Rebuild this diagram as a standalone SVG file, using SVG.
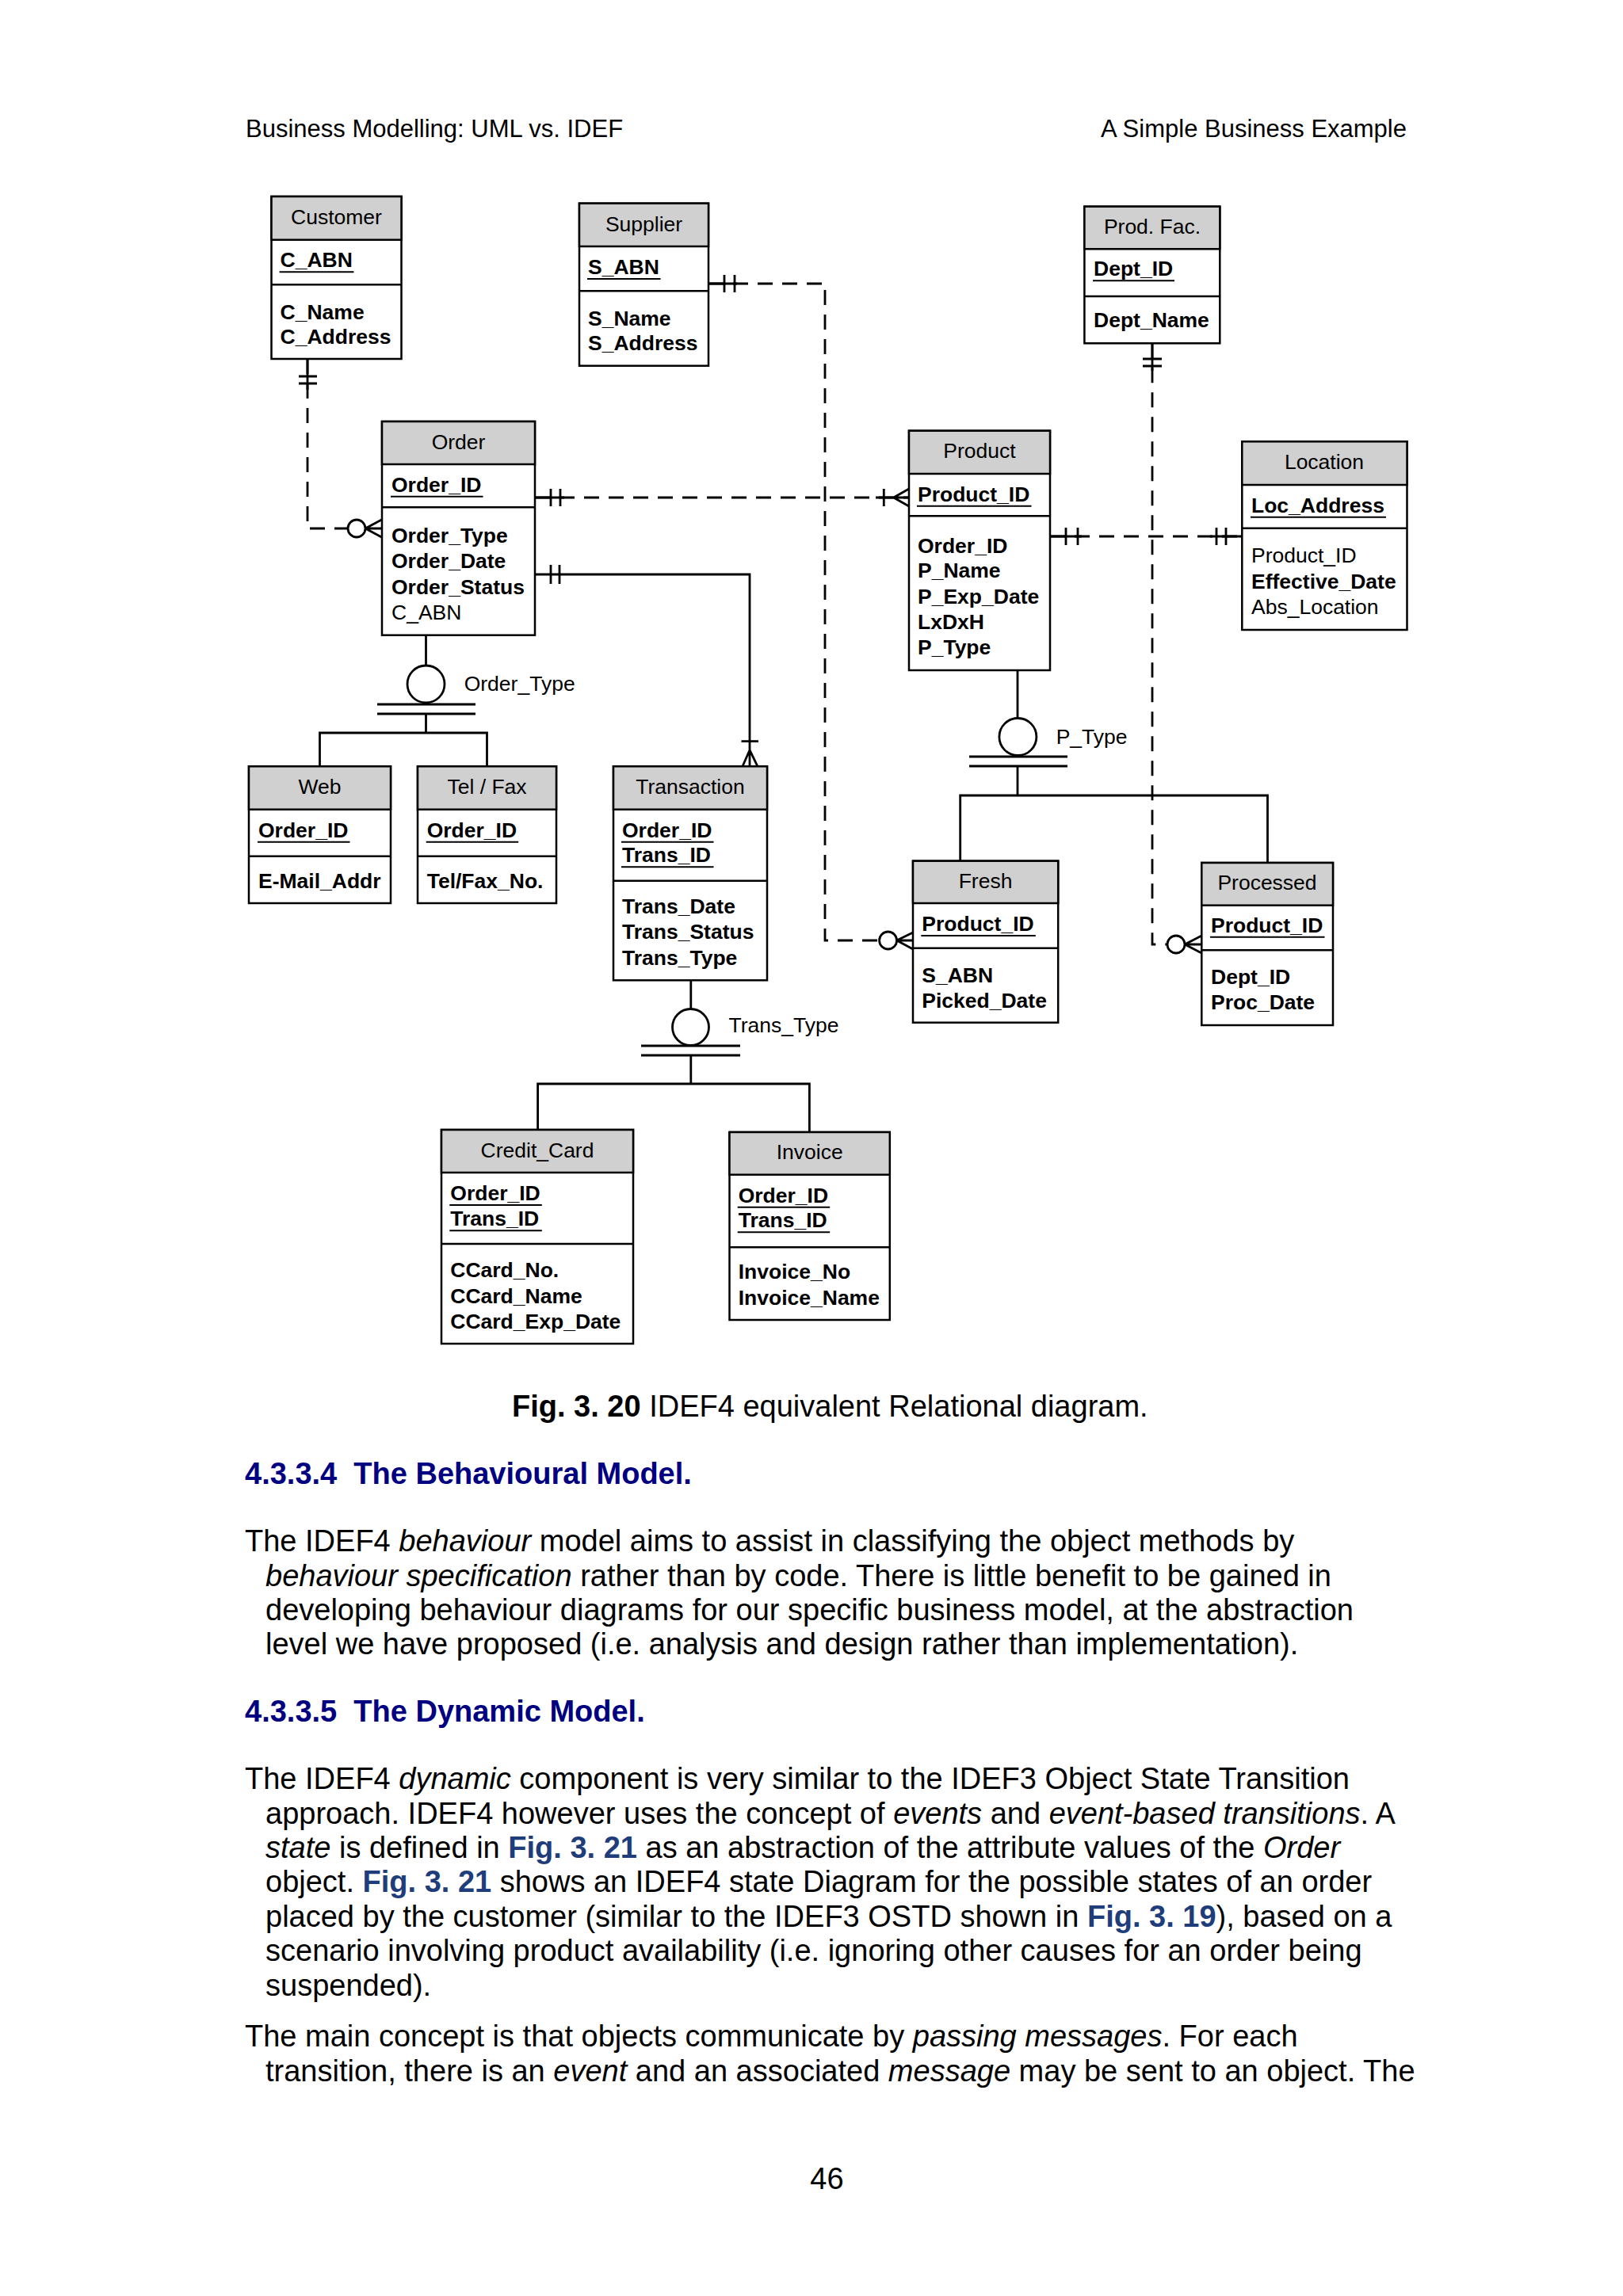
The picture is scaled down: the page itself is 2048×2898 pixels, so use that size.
<svg xmlns="http://www.w3.org/2000/svg" width="2048" height="2898" viewBox="0 0 2048 2898">
<style>
.box{fill:#fff;stroke:#000;stroke-width:2.5}
.hdr{fill:#d0d0d0;stroke:#000;stroke-width:2.5}
.sep{stroke:#000;stroke-width:2.5}
.ul{stroke:#000;stroke-width:2}
.t{font-family:"Liberation Sans",Arial,sans-serif;font-size:26.5px;fill:#000}
.b{font-weight:bold}
.c{text-anchor:middle}
.ln{fill:none;stroke:#000;stroke-width:2.8}
.dash{stroke-dasharray:19 12}
.circ{fill:#fff;stroke:#000;stroke-width:2.8}
.p{font-family:"Liberation Sans",Arial,sans-serif;font-size:38px;fill:#000}
.hd{font-family:"Liberation Sans",Arial,sans-serif;font-size:31px;fill:#000}
.h{font-family:"Liberation Sans",Arial,sans-serif;font-size:38px;font-weight:bold;fill:#000080}
.i{font-style:italic}
.lk{font-weight:bold;fill:#1f3d7a}
</style>
<rect x="0" y="0" width="2048" height="2898" fill="#fff"/>

<g id="page-header">
<text class="hd" x="310" y="172.7">Business Modelling: UML vs. IDEF</text>
<text class="hd" x="1775" y="172.7" text-anchor="end">A Simple Business Example</text>
</g>

<g id="connectors">
<!-- Customer -> Order -->
<path class="ln dash" d="M388,453 V667 H439"/>
<path class="ln" d="M388,453 V492 M377,475 H400 M377,484 H400"/>
<circle class="circ" cx="450" cy="667" r="11"/>
<path class="ln" d="M461,667 L482,655.7 M461,667 H482 M461,667 L482,678.3"/>
<!-- Order -> Product -->
<path class="ln dash" d="M675,628 H1147"/>
<path class="ln" d="M675,628 H712 M695,617 V639 M707,617 V639 M1105,628 H1147 M1115.3,617 V639 M1127.6,628 L1147,617 M1127.6,628 L1147,639"/>
<!-- Order -> Transaction -->
<path class="ln" d="M675,725 H946 V967.3 M695,713 V737 M706,713 V737 M935.5,935.7 H957 M946,946.7 L937,967.3 M946,946.7 L956,967.3"/>
<!-- Supplier -> Fresh -->
<path class="ln dash" d="M894,358 H1041 V1187 H1109.6"/>
<path class="ln" d="M894,358 H930 M914,347 V369 M927,347 V369"/>
<circle class="circ" cx="1120.6" cy="1187" r="11"/>
<path class="ln" d="M1131.6,1187 L1152,1177 M1131.6,1187 H1152 M1131.6,1187 L1152,1198"/>
<!-- Prod. Fac. -> Processed -->
<path class="ln dash" d="M1454,433.3 V1192 H1473"/>
<path class="ln" d="M1454,433.3 V468 M1442,453 H1466 M1442,462 H1466"/>
<circle class="circ" cx="1484" cy="1192" r="11"/>
<path class="ln" d="M1495,1192 L1516.3,1181 M1495,1192 H1516.3 M1495,1192 L1516.3,1203"/>
<!-- Product -> Location -->
<path class="ln dash" d="M1325,677 H1567"/>
<path class="ln" d="M1325,677 H1365 M1345,666 V688 M1360,666 V688 M1527,677 H1567.3 M1535,666 V688 M1547,666 V688"/>
<!-- Order_Type subtype -->
<path class="ln" d="M537.5,801.7 V840 M476,889 H600 M476,901 H600 M537.5,901 V925 M403.5,967.3 V925 H614.5 V967.3"/>
<circle class="circ" cx="537.5" cy="863.5" r="23.5"/>
<!-- P_Type subtype -->
<path class="ln" d="M1284,846 V906.5 M1223,955 H1347 M1223,967 H1347 M1284,967 V1004 M1211.7,1086.7 V1004 H1599.5 V1089"/>
<circle class="circ" cx="1284.4" cy="930" r="23.5"/>
<!-- Trans_Type subtype -->
<path class="ln" d="M871.8,1237.3 V1273 M809,1320 H934 M809,1332 H934 M871.8,1332 V1368 M678.6,1426 V1368 H1021.4 V1429"/>
<circle class="circ" cx="871.5" cy="1296.5" r="23"/>
<text class="t" x="585.7" y="871.7">Order_Type</text>
<text class="t" x="1332.7" y="939.3">P_Type</text>
<text class="t" x="919.6" y="1303.3">Trans_Type</text>
</g>

<g id="customer">
<rect class="box" x="342.5" y="248" width="164" height="205"/>
<rect class="hdr" x="342.5" y="248" width="164" height="54.7"/>
<line class="sep" x1="342.5" y1="359.3" x2="506.5" y2="359.3"/>
<text class="t c" x="424.5" y="283.3">Customer</text>
<text class="t b" x="353.6" y="337.3">C_ABN</text>
<line class="ul" x1="352.6" y1="343.3" x2="446.5" y2="343.3"/>
<text class="t b" x="353.6" y="402.7">C_Name</text>
<text class="t b" x="353.6" y="434">C_Address</text>
</g>

<g id="supplier">
<rect class="box" x="731" y="256.7" width="163" height="205"/>
<rect class="hdr" x="731" y="256.7" width="163" height="54.3"/>
<line class="sep" x1="731" y1="367.3" x2="894" y2="367.3"/>
<text class="t c" x="812.5" y="291.7">Supplier</text>
<text class="t b" x="742" y="346">S_ABN</text>
<line class="ul" x1="741" y1="352" x2="833.5" y2="352"/>
<text class="t b" x="742" y="411">S_Name</text>
<text class="t b" x="742" y="442.3">S_Address</text>
</g>

<g id="prodfac">
<rect class="box" x="1368.4" y="260.7" width="170.9" height="172.6"/>
<rect class="hdr" x="1368.4" y="260.7" width="170.9" height="53.6"/>
<line class="sep" x1="1368.4" y1="374" x2="1539.3" y2="374"/>
<text class="t c" x="1454" y="295">Prod. Fac.</text>
<text class="t b" x="1380" y="348.3">Dept_ID</text>
<line class="ul" x1="1379" y1="354.3" x2="1482" y2="354.3"/>
<text class="t b" x="1380" y="413.3">Dept_Name</text>
</g>

<g id="order">
<rect class="box" x="482" y="532" width="193" height="269.7"/>
<rect class="hdr" x="482" y="532" width="193" height="54"/>
<line class="sep" x1="482" y1="640.3" x2="675" y2="640.3"/>
<text class="t c" x="578.5" y="566.7">Order</text>
<text class="t b" x="494" y="620.7">Order_ID</text>
<line class="ul" x1="493" y1="626.7" x2="609.5" y2="626.7"/>
<text class="t b" x="494" y="685">Order_Type</text>
<text class="t b" x="494" y="716.7">Order_Date</text>
<text class="t b" x="494" y="749.5">Order_Status</text>
<text class="t" x="494" y="781.7">C_ABN</text>
</g>

<g id="product">
<rect class="box" x="1147" y="543.7" width="178" height="302.3"/>
<rect class="hdr" x="1147" y="543.7" width="178" height="54.3"/>
<line class="sep" x1="1147" y1="651.3" x2="1325" y2="651.3"/>
<text class="t c" x="1236" y="578.3">Product</text>
<text class="t b" x="1158" y="632.7">Product_ID</text>
<line class="ul" x1="1157" y1="638.7" x2="1301.5" y2="638.7"/>
<text class="t b" x="1158" y="697.7">Order_ID</text>
<text class="t b" x="1158" y="729.3">P_Name</text>
<text class="t b" x="1158" y="761.7">P_Exp_Date</text>
<text class="t b" x="1158" y="794.3">LxDxH</text>
<text class="t b" x="1158" y="826">P_Type</text>
</g>

<g id="location">
<rect class="box" x="1567.3" y="557.3" width="208.2" height="237.7"/>
<rect class="hdr" x="1567.3" y="557.3" width="208.2" height="54.7"/>
<line class="sep" x1="1567.3" y1="666.7" x2="1775.5" y2="666.7"/>
<text class="t c" x="1671" y="591.7">Location</text>
<text class="t b" x="1579" y="646.7">Loc_Address</text>
<line class="ul" x1="1578" y1="652.7" x2="1749" y2="652.7"/>
<text class="t" x="1579" y="710">Product_ID</text>
<text class="t b" x="1579" y="743.3">Effective_Date</text>
<text class="t" x="1579" y="775">Abs_Location</text>
</g>

<g id="web">
<rect class="box" x="314" y="967.3" width="179" height="172.7"/>
<rect class="hdr" x="314" y="967.3" width="179" height="54.4"/>
<line class="sep" x1="314" y1="1080.7" x2="493" y2="1080.7"/>
<text class="t c" x="403.5" y="1001.7">Web</text>
<text class="t b" x="326" y="1056.7">Order_ID</text>
<line class="ul" x1="325" y1="1062.7" x2="441.5" y2="1062.7"/>
<text class="t b" x="326" y="1121">E-Mail_Addr</text>
</g>

<g id="telfax">
<rect class="box" x="527" y="967.3" width="175" height="172.7"/>
<rect class="hdr" x="527" y="967.3" width="175" height="54.4"/>
<line class="sep" x1="527" y1="1080.7" x2="702" y2="1080.7"/>
<text class="t c" x="614.5" y="1001.7">Tel / Fax</text>
<text class="t b" x="538.7" y="1056.7">Order_ID</text>
<line class="ul" x1="537.7" y1="1062.7" x2="654.2" y2="1062.7"/>
<text class="t b" x="538.7" y="1121">Tel/Fax_No.</text>
</g>

<g id="transaction">
<rect class="box" x="774" y="967.3" width="194" height="270"/>
<rect class="hdr" x="774" y="967.3" width="194" height="54.4"/>
<line class="sep" x1="774" y1="1111.7" x2="968" y2="1111.7"/>
<text class="t c" x="871" y="1001.7">Transaction</text>
<text class="t b" x="785" y="1056.7">Order_ID</text>
<line class="ul" x1="784" y1="1062.7" x2="900.5" y2="1062.7"/>
<text class="t b" x="785" y="1088.3">Trans_ID</text>
<line class="ul" x1="784" y1="1094.3" x2="900.5" y2="1094.3"/>
<text class="t b" x="785" y="1153.3">Trans_Date</text>
<text class="t b" x="785" y="1185">Trans_Status</text>
<text class="t b" x="785" y="1218.3">Trans_Type</text>
</g>

<g id="fresh">
<rect class="box" x="1152" y="1086.7" width="183.2" height="204"/>
<rect class="hdr" x="1152" y="1086.7" width="183.2" height="53.3"/>
<line class="sep" x1="1152" y1="1196.7" x2="1335.2" y2="1196.7"/>
<text class="t c" x="1243.5" y="1121">Fresh</text>
<text class="t b" x="1163.3" y="1175">Product_ID</text>
<line class="ul" x1="1162.3" y1="1181" x2="1306.8" y2="1181"/>
<text class="t b" x="1163.3" y="1240">S_ABN</text>
<text class="t b" x="1163.3" y="1271.7">Picked_Date</text>
</g>

<g id="processed">
<rect class="box" x="1516.3" y="1089" width="165.7" height="205"/>
<rect class="hdr" x="1516.3" y="1089" width="165.7" height="53.7"/>
<line class="sep" x1="1516.3" y1="1199.3" x2="1682" y2="1199.3"/>
<text class="t c" x="1599" y="1122.7">Processed</text>
<text class="t b" x="1528" y="1176.7">Product_ID</text>
<line class="ul" x1="1527" y1="1182.7" x2="1671.5" y2="1182.7"/>
<text class="t b" x="1528" y="1241.7">Dept_ID</text>
<text class="t b" x="1528" y="1274">Proc_Date</text>
</g>

<g id="credit-card">
<rect class="box" x="557" y="1426" width="242" height="270"/>
<rect class="hdr" x="557" y="1426" width="242" height="54"/>
<line class="sep" x1="557" y1="1570" x2="799" y2="1570"/>
<text class="t c" x="678" y="1461">Credit_Card</text>
<text class="t b" x="568.3" y="1515">Order_ID</text>
<line class="ul" x1="567.3" y1="1521" x2="683.8" y2="1521"/>
<text class="t b" x="568.3" y="1547.3">Trans_ID</text>
<line class="ul" x1="567.3" y1="1553.3" x2="683.8" y2="1553.3"/>
<text class="t b" x="568.3" y="1611.7">CCard_No.</text>
<text class="t b" x="568.3" y="1645">CCard_Name</text>
<text class="t b" x="568.3" y="1677.3">CCard_Exp_Date</text>
</g>

<g id="invoice">
<rect class="box" x="920.5" y="1429" width="202.3" height="237"/>
<rect class="hdr" x="920.5" y="1429" width="202.3" height="53.7"/>
<line class="sep" x1="920.5" y1="1574.3" x2="1122.8" y2="1574.3"/>
<text class="t c" x="1021.7" y="1463.3">Invoice</text>
<text class="t b" x="931.7" y="1517.7">Order_ID</text>
<line class="ul" x1="930.7" y1="1523.7" x2="1047.2" y2="1523.7"/>
<text class="t b" x="931.7" y="1549.3">Trans_ID</text>
<line class="ul" x1="930.7" y1="1555.3" x2="1047.2" y2="1555.3"/>
<text class="t b" x="931.7" y="1614.3">Invoice_No</text>
<text class="t b" x="931.7" y="1646.7">Invoice_Name</text>
</g>

<g id="body-text">
<text class="p" x="646" y="1788.3"><tspan font-weight="bold">Fig. 3. 20</tspan> IDEF4 equivalent Relational diagram.</text>
<text class="h" x="309" y="1872.7" xml:space="preserve">4.3.3.4  The Behavioural Model.</text>
<text class="p" x="309" y="1958.3">The IDEF4 <tspan class="i">behaviour</tspan> model aims to assist in classifying the object methods by</text>
<text class="p" x="335" y="2001.7"><tspan class="i">behaviour specification</tspan> rather than by code. There is little benefit to be gained in</text>
<text class="p" x="335" y="2045">developing behaviour diagrams for our specific business model, at the abstraction</text>
<text class="p" x="335" y="2088.3">level we have proposed (i.e. analysis and design rather than implementation).</text>
<text class="h" x="309" y="2172.7" xml:space="preserve">4.3.3.5  The Dynamic Model.</text>
<text class="p" x="309" y="2258.3">The IDEF4 <tspan class="i">dynamic</tspan> component is very similar to the IDEF3 Object State Transition</text>
<text class="p" x="335" y="2301.7">approach. IDEF4 however uses the concept of <tspan class="i">events</tspan> and <tspan class="i">event-based transitions</tspan>. A</text>
<text class="p" x="335" y="2345"><tspan class="i">state</tspan> is defined in <tspan class="lk">Fig. 3. 21</tspan> as an abstraction of the attribute values of the <tspan class="i">Order</tspan></text>
<text class="p" x="335" y="2388.3">object. <tspan class="lk">Fig. 3. 21</tspan> shows an IDEF4 state Diagram for the possible states of an order</text>
<text class="p" x="335" y="2431.7">placed by the customer (similar to the IDEF3 OSTD shown in <tspan class="lk">Fig. 3. 19</tspan>), based on a</text>
<text class="p" x="335" y="2475">scenario involving product availability (i.e. ignoring other causes for an order being</text>
<text class="p" x="335" y="2518.5">suspended).</text>
<text class="p" x="309" y="2583.3">The main concept is that objects communicate by <tspan class="i">passing messages</tspan>. For each</text>
<text class="p" x="335" y="2626.7">transition, there is an <tspan class="i">event</tspan> and an associated <tspan class="i">message</tspan> may be sent to an object. The</text>
<text class="p" x="1043.5" y="2763.3" text-anchor="middle">46</text>
</g>
</svg>
